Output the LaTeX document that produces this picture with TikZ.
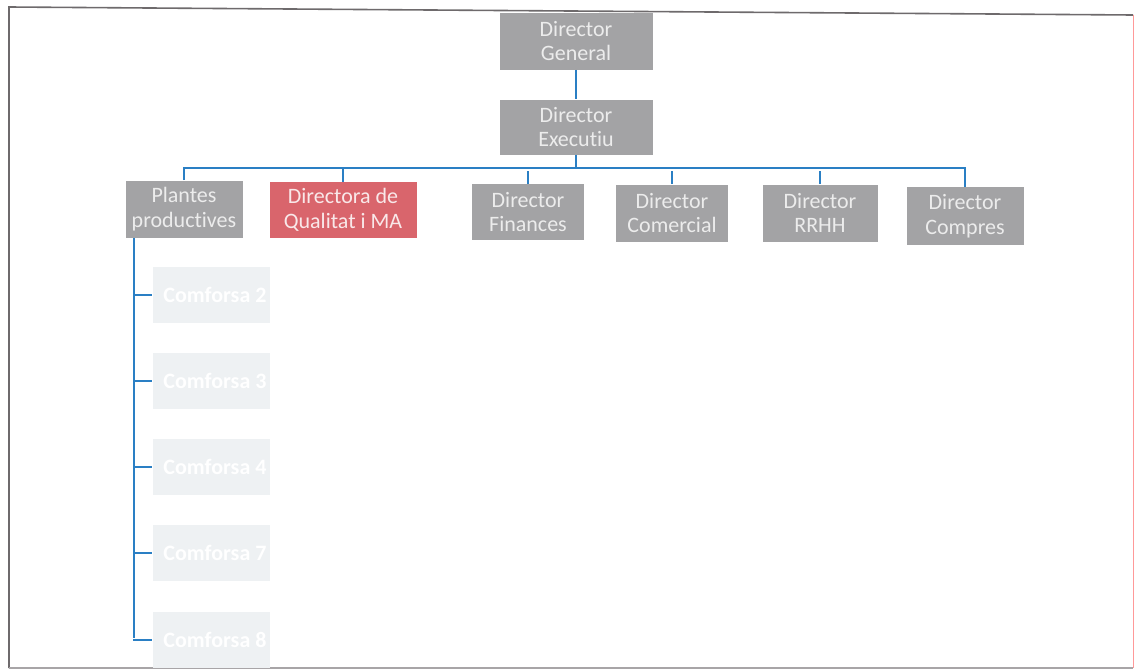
\documentclass[tikz,border=0pt]{standalone}
\usepackage{fontspec}
\setmainfont{Carlito}[Ligatures={NoCommon}]
\definecolor{boxgray}{HTML}{A3A3A5}
\definecolor{boxred}{HTML}{D9656C}
\definecolor{txtgray}{HTML}{ECECEC}
\definecolor{linkblue}{HTML}{2A7FC4}
\definecolor{faint}{HTML}{EEF1F3}
\definecolor{framegray}{HTML}{6E6A6C}
\tikzset{
  org/.style={rectangle, fill=boxgray, text=txtgray, align=center, inner sep=0pt,
    font=\fontsize{16.5}{18.5}\selectfont},
  redorg/.style={org, fill=boxred, text=white!85!boxred},
  plant/.style={rectangle, fill=faint, text=white, inner sep=0pt, minimum width=87.75pt, minimum height=42pt,
    font=\bfseries\fontsize{16.5}{18}\selectfont},
  link/.style={draw=linkblue, line width=1.5pt},
}
\begin{document}
\begin{tikzpicture}[x=0.75pt,y=-0.75pt]
\useasboundingbox (0,0) rectangle (1135,671);
\fill[white] (0,0) rectangle (1135,671);
% frame
\draw[framegray, line width=1.2pt] (9,668) -- (9,7) -- (1133,15);
\draw[framegray!60, line width=0.8pt] (9,668) -- (1133,668);
\draw[red!40, line width=0.6pt] (1133,15) -- (1133,668);
% top boxes
\node[org, minimum width=114.75pt, minimum height=42.75pt] (dg) at (576,41) {Director\\General};
\node[org, minimum width=114.75pt, minimum height=41.25pt] (de) at (576,127) {Director\\Executiu};
% second row
\node[org, minimum width=87.75pt, minimum height=42.75pt] (pp) at (184,209) {Plantes\\productives};
\node[redorg, minimum width=110.25pt, minimum height=42pt] (dq) at (343,210) {Directora de\\Qualitat i MA};
\node[org, minimum width=84pt, minimum height=42pt] (df) at (528,212) {Director\\Finances};
\node[org, minimum width=84pt, minimum height=42.75pt] (dc) at (672,213) {Director\\Comercial};
\node[org, minimum width=86.25pt, minimum height=42.75pt] (dr) at (820,213) {Director\\RRHH};
\node[org, minimum width=87.75pt, minimum height=43.5pt] (dp) at (965,216) {Director\\Compres};
% plants
\node[plant] (c2) at (211,295) {\hspace*{6pt}Comforsa 2};
\node[plant] (c3) at (211,381) {\hspace*{6pt}Comforsa 3};
\node[plant] (c4) at (211,467) {\hspace*{6pt}Comforsa 4};
\node[plant] (c7) at (211,553) {\hspace*{6pt}Comforsa 7};
\node[plant] (c8) at (211,640) {\hspace*{6pt}Comforsa 8};
% connectors
\coordinate (bus) at (576,168);
\draw[link] (dg.south) -- (de.north);
\draw[link] (de.south) -- (bus);
\draw[link] (pp.north) -- ++(0,-12) -| (dp.north);
\foreach \n in {dq,df,dc,dr} {\draw[link] (\n.north) -- ++(0,-13);}
\coordinate (spine) at (134,238);
\draw[link] (spine) -- (134,638);
\foreach \n in {c2,c3,c4,c7,c8} {\draw[link] (\n.west) ++(-19,0) -- (\n.west);}
\end{tikzpicture}
\end{document}
